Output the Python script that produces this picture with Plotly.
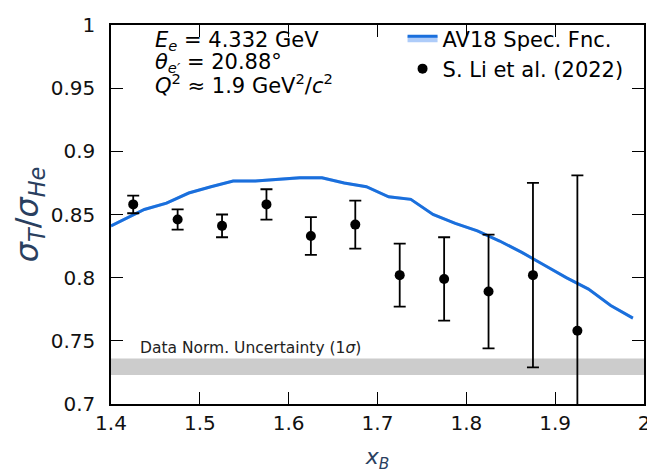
import plotly.graph_objects as go

# Theory curve (AV18 spectral function)
theory_x = [1.40, 1.4375, 1.4625, 1.4875, 1.5125, 1.5375, 1.5625, 1.5875, 1.6125, 1.6375,
            1.6625, 1.6875, 1.7125, 1.7375, 1.7625, 1.7875, 1.8125, 1.8375, 1.8625, 1.8875,
            1.9125, 1.9375, 1.9625, 1.9875]
theory_y = [0.841, 0.854, 0.859, 0.867, 0.872, 0.8765, 0.8765, 0.878, 0.879, 0.879,
            0.875, 0.872, 0.864, 0.862, 0.850, 0.843, 0.837, 0.829, 0.820, 0.810,
            0.800, 0.791, 0.778, 0.768]
theory_unc = 0.0012

# Data (S. Li et al. 2022)
data_x = [1.425, 1.475, 1.525, 1.575, 1.625, 1.675, 1.725, 1.775, 1.825, 1.875, 1.925]
data_y = [0.858, 0.846, 0.841, 0.858, 0.833, 0.842, 0.802, 0.799, 0.789, 0.802, 0.758]
data_err = [0.007, 0.008, 0.009, 0.012, 0.015, 0.019, 0.025, 0.033, 0.045, 0.073, 0.123]

# Normalization uncertainty band (spans the full x range)
norm_x = [1.4, 2.0]
norm_lo, norm_hi = 0.723, 0.736

x_ticks = [1.4, 1.5, 1.6, 1.7, 1.8, 1.9, 2.0]
x_ticktext = ["1.4", "1.5", "1.6", "1.7", "1.8", "1.9", "2"]
y_ticks = [0.7, 0.75, 0.8, 0.85, 0.9, 0.95, 1.0]
y_ticktext = ["0.7", "0.75", "0.8", "0.85", "0.9", "0.95", "1"]

FONT = "DejaVu Sans"
BLUE = "#1a6fdc"
BAND = "rgba(120,170,245,0.6)"

# page body has an 8px margin; compensate so the plot area sits where the reference has it
OFF = 8
W, H = 655, 473
L, R, T, B = 105, 5, 13, 69

fig = go.Figure()

# gray normalization band as a filled trace
fig.add_trace(go.Scatter(x=norm_x, y=[norm_lo] * len(norm_x), mode="lines", line=dict(width=0),
                         hoverinfo="skip", showlegend=False))
fig.add_trace(go.Scatter(x=norm_x, y=[norm_hi] * len(norm_x), mode="lines", line=dict(width=0),
                         fill="tonexty", fillcolor="#cccccc", hoverinfo="skip", showlegend=False))

upper = [y + theory_unc for y in theory_y]
lower = [y - theory_unc for y in theory_y]
fig.add_trace(go.Scatter(x=theory_x, y=lower, mode="lines", line=dict(width=0),
                         hoverinfo="skip", showlegend=False))
fig.add_trace(go.Scatter(x=theory_x, y=theory_y, mode="lines", fill="tonexty",
                         fillcolor=BAND, line=dict(color=BLUE, width=3),
                         name="AV18 Spec. Fnc."))
fig.add_trace(go.Scatter(x=theory_x, y=upper, mode="lines", fill="tonexty",
                         fillcolor=BAND, line=dict(width=0),
                         hoverinfo="skip", showlegend=False))
fig.add_trace(go.Scatter(x=data_x, y=data_y, mode="markers",
                         marker=dict(color="black", size=10),
                         error_y=dict(type="data", array=data_err, color="black",
                                      thickness=1.8, width=6),
                         name="S. Li et al. (2022)"))

fig.add_annotation(x=1.43, y=norm_hi, xref="x", yref="y",
                   text="Data Norm. Uncertainty (1<i>σ</i>)", showarrow=False,
                   xanchor="left", yanchor="bottom", font=dict(size=15.5, family=FONT, color="#222"))

ann_lines = ["<i>E<sub>e</sub></i> = 4.332 GeV",
             "<i>θ<sub>e′</sub></i> = 20.88°",
             "<i>Q</i><sup>2</sup> ≈ 1.9 GeV<sup>2</sup>/<i>c</i><sup>2</sup>"]
for i, t in enumerate(ann_lines):
    fig.add_annotation(x=0.079, y=0.957 - i * 0.0563, xref="paper", yref="paper", text=t,
                       showarrow=False, xanchor="left", yanchor="middle",
                       font=dict(size=21, family=FONT, color="black"))

PAD = "\u2002"
axis_common = dict(showline=True, linecolor="black", linewidth=1.5, mirror="allticks",
                   ticks="inside", ticklen=12, tickwidth=1.2, tickcolor="black",
                   showgrid=False, zeroline=False,
                   tickfont=dict(size=20, family=FONT, color="#111"))

fig.update_layout(
    width=W - OFF, height=H - OFF,
    margin=dict(l=L - OFF, r=R, t=T - OFF, b=B),
    plot_bgcolor="white", paper_bgcolor="white",
    xaxis=dict(range=[1.4, 2.0], tickvals=x_ticks, ticktext=x_ticktext,
               title=dict(text="<i>x<sub>B</sub></i>", font=dict(size=22, family=FONT)),
               **axis_common),
    yaxis=dict(range=[0.7, 1.0], tickvals=y_ticks, ticktext=[t + PAD for t in y_ticktext],
               title=dict(text="<i>σ<sub>T</sub></i>/<i>σ<sub>He</sub></i>", font=dict(size=32, family=FONT)),
               **axis_common),
    legend=dict(x=0.547, y=1.018, xanchor="left", yanchor="top", traceorder="normal",
                font=dict(size=21, family=FONT, color="black"),
                bgcolor="rgba(0,0,0,0)"),
    showlegend=True,
)

fig.write_html("out.html")
